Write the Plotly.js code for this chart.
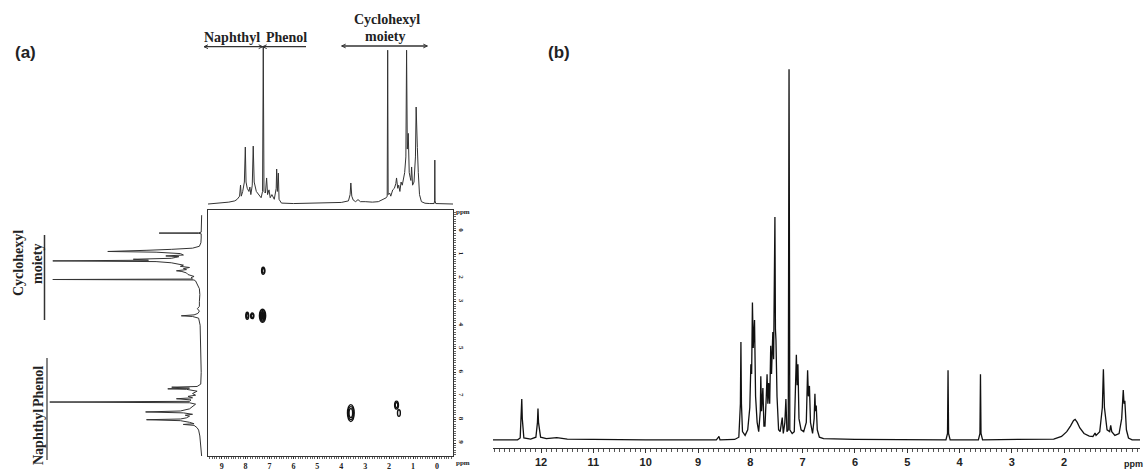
<!DOCTYPE html>
<html><head><meta charset="utf-8">
<script src="https://cdn.plot.ly/plotly-3.0.1.min.js"></script>
<style>html,body{margin:0;padding:0;background:#fff}#chart{width:1145px;height:471px}</style>
</head><body><div id="chart"></div>
<script>
// ---- Panel (b): 1H NMR spectrum, vertices [ppm, relative intensity %]
const bSpectrum = [[12.92,0.3],[12.45,0.3],[12.40,0.8],[12.38,6],[12.37,11.3],[12.36,6],[12.33,0.8],[12.20,0.5],[12.10,1.0],[12.07,5],[12.06,8.7],[12.05,5],[12.01,1.0],[11.9,0.6],[11.7,0.9],[11.5,0.5],[11.0,0.4],[10.0,0.3],[9.0,0.3],[8.65,0.3],[8.61,1.0],[8.60,1.2],[8.58,0.3],[8.30,0.4],[8.22,1.0],[8.19,10],[8.18,26.6],[8.17,10],[8.15,2.5],[8.10,1.5],[8.05,3],[8.01,9],[7.99,20.6],[7.975,18],[7.96,37.2],[7.945,25],[7.92,32.5],[7.90,12],[7.87,5],[7.84,2.5],[7.81,8],[7.80,17.4],[7.785,8],[7.76,14.2],[7.74,4],[7.72,4],[7.695,12],[7.68,17.9],[7.665,10],[7.65,15.6],[7.63,10],[7.61,25.6],[7.595,18],[7.57,29.3],[7.555,22],[7.53,60.2],[7.52,30],[7.51,27.2],[7.49,12],[7.46,3],[7.43,2.5],[7.40,5],[7.39,6.3],[7.37,2],[7.34,5],[7.32,11.3],[7.30,2.5],[7.275,3],[7.26,100],[7.245,3],[7.20,2],[7.16,2.5],[7.13,15],[7.12,23.2],[7.105,15],[7.09,20.6],[7.07,6],[7.03,3],[6.98,2.5],[6.93,5],[6.905,19.0],[6.89,12],[6.87,14.8],[6.85,5],[6.81,2],[6.78,6],[6.765,12.7],[6.755,8],[6.74,9.5],[6.72,3],[6.68,1],[6.6,0.6],[6.0,0.4],[5.0,0.3],[4.26,0.3],[4.23,2],[4.22,19.0],[4.21,2],[4.18,0.3],[3.64,0.3],[3.61,2],[3.60,17.9],[3.59,2],[3.56,0.3],[2.5,0.3],[2.2,0.5],[2.05,1.2],[1.95,2.5],[1.88,4],[1.82,5.5],[1.79,5.8],[1.75,5],[1.70,3.5],[1.62,2],[1.52,1.3],[1.45,1.2],[1.41,2.1],[1.39,1.5],[1.32,2.5],[1.27,9],[1.25,19.3],[1.23,9],[1.18,3],[1.13,2.5],[1.11,4.2],[1.09,2.5],[1.03,1.5],[0.95,2],[0.90,6],[0.87,13.7],[0.855,10],[0.84,10.8],[0.81,3],[0.77,0.8],[0.70,0.3],[0.55,0.3]];
const bTicks = [12,11,10,9,8,7,6,5,4,3,2];

// ---- Panel (a): 1D projection spectrum (top and left), [ppm, relative intensity %]
const aSpectrum = [[9.57,0],[9.3,0.3],[9.0,0.6],[8.7,1.2],[8.45,2],[8.35,3],[8.25,5],[8.21,12.1],[8.18,5],[8.12,8],[8.05,14],[8.01,36.3],[7.98,14],[7.93,10],[7.86,8],[7.82,10.8],[7.78,6],[7.72,12],[7.68,36.9],[7.64,14],[7.55,8],[7.45,6],[7.35,4],[7.29,8],[7.26,100],[7.23,8],[7.17,7],[7.12,16.6],[7.08,6],[7.02,9],[6.97,4],[6.9,6],[6.8,3],[6.72,10],[6.70,22.3],[6.67,8],[6.63,19.7],[6.6,3],[6.5,0.6],[6.0,0.3],[5.5,0.5],[5.0,0.3],[4.5,0.6],[4.0,1.0],[3.7,2],[3.63,6],[3.60,13.4],[3.56,5],[3.5,2.5],[3.4,1.5],[3.3,2.8],[3.2,1.5],[3.0,1.5],[2.7,1.2],[2.45,1.5],[2.3,2.5],[2.12,4],[2.08,5],[2.06,98],[2.04,6],[1.98,7],[1.93,5],[1.85,9],[1.78,10],[1.72,13],[1.69,16.6],[1.64,10],[1.60,12],[1.55,8],[1.50,14],[1.45,12],[1.35,20],[1.30,30],[1.27,98],[1.24,35],[1.20,45],[1.16,20],[1.12,17],[1.09,15],[1.06,23.6],[1.02,12],[0.96,14],[0.90,30],[0.87,61.8],[0.85,55],[0.82,36],[0.78,20],[0.73,6],[0.65,1.5],[0.5,0.5],[0.3,0.3],[0.12,0.3],[0.10,2],[0.09,28],[0.08,2],[0.05,0.3],[-0.3,0],[-0.67,0]];
const aTicks = [9,8,7,6,5,4,3,2,1,0];

// ---- Panel (a): 2D cross peaks (F2 ppm, F1 ppm, half-widths in ppm, contour levels)
const cpX = [7.26, 7.93, 7.72, 7.29, 3.60, 1.69, 1.59];
const cpY = [1.69, 3.60, 3.60, 3.60, 7.73, 7.39, 7.73];
const cpWx = [0.07, 0.06, 0.07, 0.13, 0.14, 0.08, 0.06];
const cpWy = [0.15, 0.15, 0.12, 0.28, 0.36, 0.17, 0.14];
const cpLevels = [2, 2, 2, 4, 3, 2, 1];

// ---------- build ----------
const W = 1145, H = 471;
const px = v => v / W, py = v => 1 - v / H;

const bPpm = bSpectrum.map(p => p[0]), bInt = bSpectrum.map(p => p[1]);
const aPpm = aSpectrum.map(p => p[0]), aInt = aSpectrum.map(p => p[1]);

const serif = 'Liberation Serif, Times New Roman, serif';
const sans = 'Liberation Sans, Arial, sans-serif';

const traces = [
  {x: bPpm, y: bInt, xaxis: 'x', yaxis: 'y', type: 'scatter', mode: 'lines',
   line: {color: '#111', width: 1.3}, hoverinfo: 'skip'},
  {x: aPpm, y: aInt, xaxis: 'x2', yaxis: 'y2', type: 'scatter', mode: 'lines',
   line: {color: '#333', width: 1}, hoverinfo: 'skip'},
  {x: aInt, y: aPpm, xaxis: 'x4', yaxis: 'y4', type: 'scatter', mode: 'lines',
   line: {color: '#333', width: 1}, hoverinfo: 'skip'}
];

const shapes = [];
// contour ellipses
cpX.forEach((cx, i) => {
  const n = cpLevels[i];
  for (let k = 0; k < n; k++) {
    const f = 1 - k * 0.7 / Math.max(n, 1);
    const last = (k === n - 1) && n >= 4;
    shapes.push({type: 'circle', xref: 'x3', yref: 'y3',
      x0: cx - cpWx[i] * f, x1: cx + cpWx[i] * f,
      y0: cpY[i] - cpWy[i] * f, y1: cpY[i] + cpWy[i] * f,
      line: {color: '#111', width: 1.4},
      fillcolor: last ? '#111' : 'rgba(0,0,0,0)'});
  }
});
// bracket lines (decoration, paper coords)
function seg(x0, y0, x1, y1, w) {
  shapes.push({type: 'line', xref: 'paper', yref: 'paper',
    x0: px(x0), y0: py(y0), x1: px(x1), y1: py(y1),
    line: {color: '#333', width: w || 1.2}});
}
// top brackets
seg(204, 46.7, 306, 46.7);
seg(204, 46.7, 208, 44.8, 1); seg(204, 46.7, 208, 48.6, 1);
seg(262.7, 46.7, 258.7, 44.8, 1); seg(262.7, 46.7, 258.7, 48.6, 1);
seg(262.7, 46.7, 266.7, 44.8, 1); seg(262.7, 46.7, 266.7, 48.6, 1);
seg(341.7, 46, 427.3, 46, 1.5);
seg(341.7, 46, 345.7, 44.1, 1); seg(341.7, 46, 345.7, 47.9, 1);
seg(427.3, 46, 423.3, 44.1, 1); seg(427.3, 46, 423.3, 47.9, 1);
// left brackets
seg(44.5, 235, 44.5, 320, 1.5);
seg(47, 358, 47, 460, 1.2);

function ann(text, x, y, size, font, angle) {
  return {text: text, x: px(x), y: py(y), xref: 'paper', yref: 'paper',
    xanchor: 'center', yanchor: 'middle', showarrow: false,
    textangle: angle || 0, font: {family: font, size: size, color: '#222'}};
}
const annotations = [
  ann('<b>(a)</b>', 25, 53, 17, sans),
  ann('<b>(b)</b>', 559, 53, 17, sans),
  ann('<b>Naphthyl</b>', 232, 38, 14, serif),
  ann('<b>Phenol</b>', 286, 38, 14, serif),
  ann('<b>Cyclohexyl</b>', 386.5, 20, 14, serif),
  ann('<b>moiety</b>', 385, 37, 14, serif),
  ann('<b>Cyclohexyl</b>', 18, 263, 14, serif, -90),
  ann('<b>moiety</b>', 37, 264, 14, serif, -90),
  ann('<b>Phenol</b>', 38, 387, 14, serif, -90),
  ann('<b>Naphthyl</b>', 38, 437, 14, serif, -90),
  ann('<b>ppm</b>', 1133, 464, 9, sans),
  ann('<b>ppm</b>', 463, 212, 7, serif),
  ann('<b>ppm</b>', 463, 463, 7, serif)
];

const layout = {
  width: W, height: H, margin: {l: 0, r: 0, t: 0, b: 0},
  paper_bgcolor: '#fff', plot_bgcolor: 'rgba(0,0,0,0)', showlegend: false,
  xaxis: {domain: [px(493), px(1140)], range: [12.92, 0.55], anchor: 'y',
    showline: true, linecolor: '#333', linewidth: 1, showgrid: false, zeroline: false,
    ticks: 'outside', ticklen: 4, tickwidth: 1, tickcolor: '#333',
    tickvals: bTicks, ticktext: bTicks.map(String),
    tickfont: {family: sans, size: 11, color: '#222', weight: 'bold'},
    minor: {dtick: 0.1, tick0: 0, ticks: 'outside', ticklen: 2.5, tickcolor: '#555', showgrid: false}},
  yaxis: {domain: [py(448), py(55)], range: [-1.9, 103.8], visible: false, fixedrange: true},

  xaxis2: {domain: [px(208), px(453)], range: [9.57, -0.67], anchor: 'y2', visible: false},
  yaxis2: {domain: [py(207), py(40)], range: [-1.9, 104.5], anchor: 'x2', visible: false},

  xaxis3: {domain: [px(208), px(453)], range: [9.57, -0.67], anchor: 'y3',
    showline: true, mirror: true, linecolor: '#333', linewidth: 1, showgrid: false, zeroline: false,
    ticks: 'outside', ticklen: 2, tickcolor: '#333',
    tickvals: aTicks, ticktext: aTicks.map(String),
    tickfont: {family: serif, size: 8, color: '#222', weight: 'bold'},
    minor: {dtick: 0.1, tick0: 0, ticks: 'outside', ticklen: 1.5, tickcolor: '#666', showgrid: false}},
  yaxis3: {domain: [py(456), py(210)], range: [9.55, -0.89], anchor: 'x3', side: 'right',
    showline: true, mirror: true, linecolor: '#333', linewidth: 1, showgrid: false, zeroline: false,
    ticks: 'outside', ticklen: 2, tickcolor: '#333', tickangle: 90,
    tickvals: aTicks, ticktext: aTicks.map(String),
    tickfont: {family: serif, size: 7, color: '#222', weight: 'bold'},
    minor: {dtick: 0.1, tick0: 0, ticks: 'outside', ticklen: 1.5, tickcolor: '#666', showgrid: false}},

  xaxis4: {domain: [px(30), px(205)], range: [113, -2.2], anchor: 'y4', visible: false},
  yaxis4: {domain: [py(456), py(210)], range: [9.55, -0.89], anchor: 'x4', visible: false},

  shapes: shapes, annotations: annotations
};

Plotly.newPlot('chart', traces, layout, {staticPlot: true, displayModeBar: false});
</script>
</body></html>
